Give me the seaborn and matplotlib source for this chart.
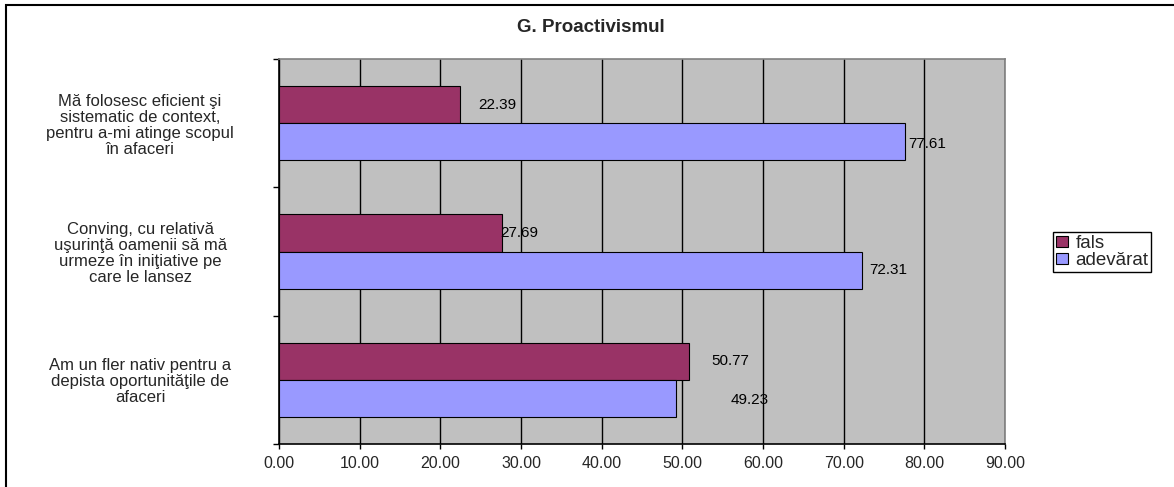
import matplotlib
matplotlib.use("Agg")
import matplotlib.pyplot as plt
from matplotlib.patches import Patch, Rectangle
from matplotlib.ticker import FormatStrFormatter, FixedLocator
import seaborn as sns
import pandas as pd

# --- data -------------------------------------------------------------
categorii = [
    "Mă folosesc eficient şi\nsistematic de context,\npentru a-mi atinge scopul\nîn afaceri",
    "Conving, cu relativă\nuşurinţă oamenii să mă\nurmeze în iniţiative pe\ncare le lansez",
    "Am un fler nativ pentru a\ndepista oportunităţile de\nafaceri",
]
serii = ["fals", "adevărat"]
fals = [22.39, 27.69, 50.77]
adevarat = [77.61, 72.31, 49.23]
x_ticks = [0, 10, 20, 30, 40, 50, 60, 70, 80, 90]
titlu = "G. Proactivismul"

# label placement (pixels from bar end / bar centre), per series then category
offset_etichete = {
    "fals": [(19, 0), (-2, 0), (23, 0)],
    "adevărat": [(3, 2.5), (7, 0), (55, 1.5)],
}

culori = {"fals": "#993366", "adevărat": "#9999FF"}

df = pd.DataFrame({
    "categorie": categorii * 2,
    "serie": [serii[0]] * 3 + [serii[1]] * 3,
    "valoare": fals + adevarat,
})

# --- figure -----------------------------------------------------------
sns.set_style("white")
plt.rcParams["font.family"] = ["Liberation Sans", "DejaVu Sans"]

W, H = 1174, 487
fig = plt.figure(figsize=(W / 100, H / 100), dpi=100)
ax = fig.add_axes([279 / W, 1 - 444 / H, (1005 - 279) / W, (444 - 59) / H])

sns.barplot(
    data=df, x="valoare", y="categorie", hue="serie", orient="h",
    order=categorii, hue_order=serii, palette=culori, saturation=1,
    width=0.577, edgecolor="black", linewidth=0.8,
    legend=False, ax=ax,
)

ax.set_facecolor("#C0C0C0")
ax.set_xlim(0, 90)
ax.set_ylim(2.5, -0.5)
ax.set_xlabel("")
ax.set_ylabel("")
ax.set_axisbelow(True)

# vertical gridlines
ax.xaxis.set_major_locator(FixedLocator(x_ticks))
ax.xaxis.set_major_formatter(FormatStrFormatter("%.2f"))
ax.grid(axis="x", color="black", linewidth=1.0)
ax.grid(axis="y", visible=False)

# spines
for s in ("left", "bottom"):
    ax.spines[s].set_color("black")
    ax.spines[s].set_linewidth(1.2)
for s in ("top", "right"):
    ax.spines[s].set_color("#808080")
    ax.spines[s].set_linewidth(1.2)

ax.tick_params(axis="x", direction="out", length=3.5, width=1, color="black",
               labelsize=11.5, pad=5, bottom=True)

# category labels centred under a common column, ticks on band boundaries
ax.set_yticks(range(len(categorii)))
ax.set_yticklabels(categorii, ha="center", multialignment="center",
                   fontsize=12, linespacing=1.08)
ax.tick_params(axis="y", which="major", length=0, pad=100)
ax.yaxis.set_minor_locator(FixedLocator([-0.5, 0.5, 1.5, 2.5]))
ax.tick_params(axis="y", which="minor", direction="out", length=4, width=1,
               color="black", left=True)

# value labels
for cont, serie in zip(ax.containers, serii):
    for bar, (dx, dy) in zip(cont, offset_etichete[serie]):
        v = bar.get_width()
        ax.annotate(f"{v:.2f}",
                    xy=(v, bar.get_y() + bar.get_height() / 2),
                    xytext=(dx, -dy), textcoords="offset pixels",
                    ha="left", va="center", fontsize=11, color="black",
                    annotation_clip=False)

# title
fig.text(591 / W, 1 - 28 / H, titlu, ha="center", va="center",
         fontsize=13.5, fontweight="bold")

# legend
handles = [Patch(facecolor=culori[s], edgecolor="black", linewidth=0.8, label=s)
           for s in serii]
leg = fig.legend(handles=handles, loc="upper left",
                 bbox_to_anchor=(1053 / W, 1 - 232 / H),
                 fontsize=13.5, frameon=True, fancybox=False, framealpha=1,
                 borderpad=0.15, labelspacing=0.02, handlelength=0.65,
                 handleheight=0.55, handletextpad=0.4, borderaxespad=0)
leg.get_frame().set_edgecolor("black")
leg.get_frame().set_linewidth(1.0)

# chart-area border
fig.patches.append(Rectangle((6 / W, -0.1), 1.2, 1.1 - 4.5 / H,
                             transform=fig.transFigure, fill=False,
                             edgecolor="black", linewidth=1.5))

fig.savefig("out.png", dpi=100)
